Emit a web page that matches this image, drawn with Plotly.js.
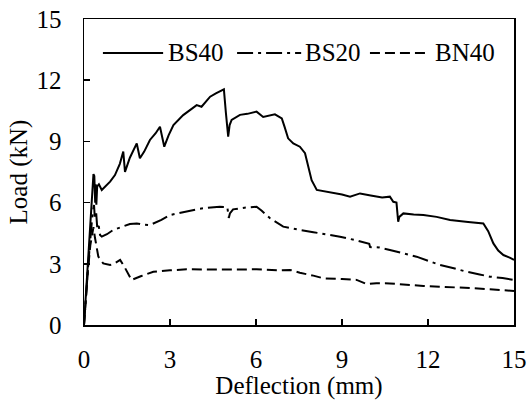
<!DOCTYPE html>
<html>
<head>
<meta charset="utf-8">
<script src="https://cdn.plot.ly/plotly-3.0.1.min.js"></script>
<style>html,body{margin:0;padding:0;background:#fff;}#chart{width:529px;height:400px;}</style>
</head>
<body>
<div id="chart"></div>
<script>
const bs40X = [0, 0.05, 0.12, 0.21, 0.27, 0.33, 0.36, 0.39, 0.41, 0.43, 0.46, 0.52, 0.62, 0.73, 0.91, 1.08, 1.25, 1.37, 1.43, 1.6, 1.84, 1.95, 2.1, 2.3, 2.5, 2.65, 2.8, 2.95, 3.12, 3.46, 3.7, 3.93, 4.1, 4.4, 4.6, 4.8, 4.88, 4.95, 5.03, 5.08, 5.15, 5.44, 5.7, 6.02, 6.25, 6.66, 6.9, 7.0, 7.12, 7.3, 7.53, 7.71, 7.94, 8.12, 8.4, 8.69, 9.0, 9.28, 9.63, 10.0, 10.4, 10.67, 10.79, 10.9, 10.96, 11.0, 11.14, 11.5, 11.84, 12.3, 12.77, 13.4, 13.93, 14.1, 14.28, 14.45, 14.63, 14.85, 15.0];
const bs40Y = [0, 1.2, 2.8, 4.8, 6.2, 7.4, 7.3, 6.0, 6.9, 5.9, 6.8, 6.9, 6.62, 6.78, 7.03, 7.35, 7.9, 8.5, 7.51, 8.2, 8.9, 8.17, 8.5, 9.07, 9.4, 9.72, 8.74, 9.3, 9.8, 10.29, 10.55, 10.78, 10.7, 11.19, 11.35, 11.52, 11.55, 10.4, 9.23, 9.8, 10.05, 10.3, 10.35, 10.46, 10.2, 10.33, 10.13, 9.7, 9.15, 8.9, 8.74, 8.42, 7.1, 6.62, 6.55, 6.49, 6.4, 6.29, 6.45, 6.35, 6.25, 6.29, 6.04, 6.0, 5.06, 5.3, 5.47, 5.42, 5.39, 5.3, 5.15, 5.05, 4.98, 4.6, 4.0, 3.65, 3.43, 3.3, 3.19];

const bs20X = [0, 0.06, 0.14, 0.22, 0.3, 0.35, 0.38, 0.42, 0.46, 0.5, 0.56, 0.62, 0.8, 1.02, 1.36, 1.6, 1.84, 2.05, 2.3, 2.7, 3.0, 3.5, 3.93, 4.3, 4.74, 5.0, 5.05, 5.09, 5.2, 5.6, 6.02, 6.2, 6.49, 6.95, 7.19, 7.53, 8.0, 8.5, 8.93, 9.5, 9.95, 9.98, 10.3, 10.67, 11.1, 11.6, 12.0, 12.42, 12.9, 13.35, 13.8, 14.16, 14.6, 15.0];
const bs20Y = [0, 1.3, 2.8, 4.2, 5.5, 5.88, 5.2, 5.6, 4.8, 5.0, 4.41, 4.33, 4.45, 4.66, 4.82, 4.95, 4.98, 4.92, 4.9, 5.15, 5.39, 5.55, 5.67, 5.75, 5.8, 5.78, 5.25, 5.47, 5.67, 5.75, 5.8, 5.6, 5.23, 4.82, 4.74, 4.66, 4.55, 4.45, 4.33, 4.15, 3.98, 3.82, 3.8, 3.68, 3.52, 3.35, 3.15, 2.94, 2.78, 2.61, 2.48, 2.37, 2.3, 2.21];

const bn40X = [0, 0.06, 0.14, 0.22, 0.29, 0.33, 0.38, 0.43, 0.5, 0.67, 0.91, 1.1, 1.26, 1.43, 1.55, 1.66, 2.0, 2.42, 3.0, 3.58, 4.3, 4.98, 5.5, 6.02, 6.8, 7.19, 7.53, 8.0, 8.35, 9.0, 9.51, 9.86, 10.2, 10.67, 11.2, 11.84, 12.4, 13.0, 13.6, 14.16, 14.6, 15.0];
const bn40Y = [0, 1.3, 2.7, 3.9, 4.6, 4.8, 4.3, 3.9, 3.35, 3.02, 2.94, 3.05, 3.19, 2.8, 2.45, 2.21, 2.4, 2.61, 2.68, 2.73, 2.72, 2.7, 2.72, 2.73, 2.68, 2.7, 2.56, 2.42, 2.29, 2.25, 2.21, 2.01, 2.05, 2.04, 1.97, 1.91, 1.88, 1.85, 1.8, 1.75, 1.71, 1.67];

const seriesNames = ['BS40', 'BS20', 'BN40'];
const xTicks = [0, 3, 6, 9, 12, 15];
const yTicks = [0, 3, 6, 9, 12, 15];

const FONT = "'Liberation Serif', 'Times New Roman', serif";
const FS = 25;
const dashes = ['solid', '16px,5px,3px,5px', '10px,5px'];

const traces = [
  {x: bs40X, y: bs40Y, name: seriesNames[0], mode: 'lines', line: {color: '#000', width: 2, dash: dashes[0]}},
  {x: bs20X, y: bs20Y, name: seriesNames[1], mode: 'lines', line: {color: '#000', width: 2, dash: dashes[1]}},
  {x: bn40X, y: bn40Y, name: seriesNames[2], mode: 'lines', line: {color: '#000', width: 2, dash: dashes[2]}}
];

// legend drawn in paper coordinates (line sample start, end, text start)
const legendY = 0.889;
const legendItems = [[0.044, 0.184, 0.192], [0.356, 0.505, 0.512], [0.665, 0.797, 0.815]];
const shapes = legendItems.map((it, i) => ({
  type: 'line', xref: 'paper', yref: 'paper', x0: it[0], x1: it[1], y0: legendY, y1: legendY,
  line: {color: '#000', width: 2, dash: dashes[i]}
}));
const annotations = legendItems.map((it, i) => ({
  xref: 'paper', yref: 'paper', x: it[2], y: legendY, xanchor: 'left', yanchor: 'middle',
  text: seriesNames[i], showarrow: false, borderpad: 0, font: {family: FONT, size: FS, color: '#000'}
}));

const axisCommon = {
  showgrid: false, zeroline: false, showline: true, linecolor: '#000', linewidth: 1.5,
  mirror: true, ticks: 'inside', ticklen: 6, tickcolor: '#000', tickwidth: 1.5,
  tickfont: {family: FONT, size: FS, color: '#000'}
};

const layout = {
  width: 529, height: 400,
  margin: {l: 84, r: 15, t: 19, b: 75},
  paper_bgcolor: '#fff', plot_bgcolor: '#fff',
  font: {family: FONT, size: FS, color: '#000'},
  xaxis: Object.assign({}, axisCommon, {
    range: [0, 15], tickvals: xTicks, ticktext: xTicks.map(String), ticklabelstandoff: 11,
    title: {text: 'Deflection (mm)', font: {family: FONT, size: FS, color: '#000'}, standoff: 0}
  }),
  yaxis: Object.assign({}, axisCommon, {
    range: [0, 15], tickvals: yTicks, ticktext: yTicks.map(String), ticklabelstandoff: 16,
    title: {text: 'Load (kN)', font: {family: FONT, size: FS, color: '#000'}, standoff: 2}
  }),
  showlegend: false,
  shapes: shapes,
  annotations: annotations
};

Plotly.newPlot('chart', traces, layout, {displayModeBar: false, staticPlot: true});
</script>
</body>
</html>
